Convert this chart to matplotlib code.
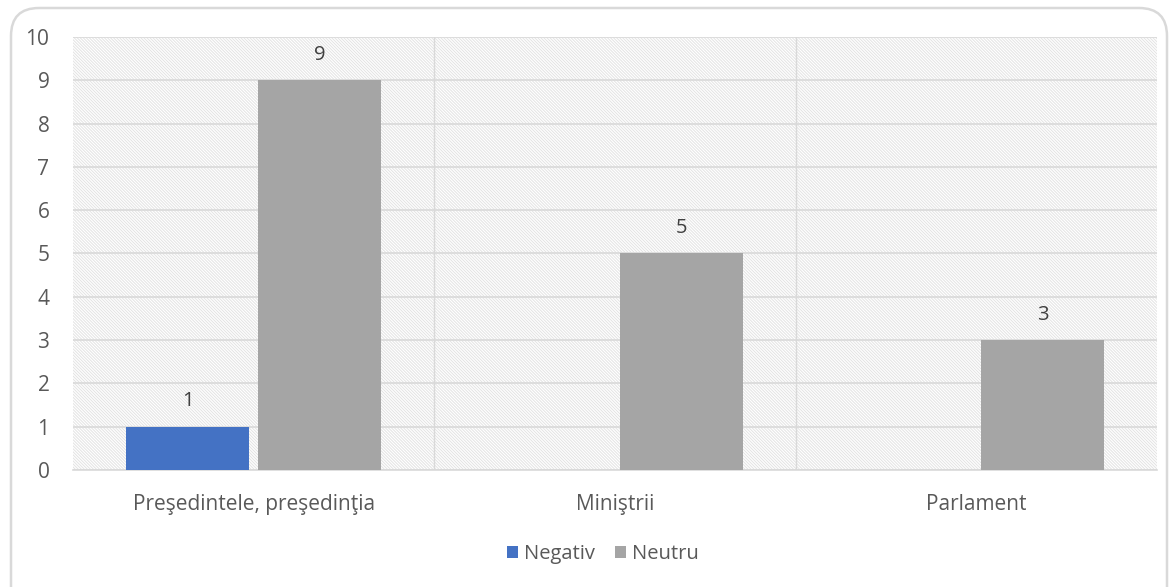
import numpy as np
import matplotlib
import matplotlib.pyplot as plt
from matplotlib.patches import FancyBboxPatch, Rectangle

categories = ["Preşedintele, preşedinţia", "Miniştrii", "Parlament"]
negativ = [1, np.nan, np.nan]
neutru = [9, 5, 3]
series_names = ["Negativ", "Neutru"]
colors = ["#4472C4", "#A5A5A5"]

W, H = 1173, 587


def main():
    plt.rcParams["font.family"] = ["Open Sans", "DejaVu Sans"]
    plt.rcParams["hatch.linewidth"] = 0.7

    fig = plt.figure(figsize=(W / 100, H / 100), dpi=100)

    # rounded chart border drawn in pixel coords, bottom runs off the picture
    bg = fig.add_axes([0, 0, 1, 1])
    bg.set_xlim(0, W)
    bg.set_ylim(H, 0)
    bg.axis("off")
    bg.add_patch(FancyBboxPatch((11, 8), 1156, 620,
                                boxstyle="round,pad=0,rounding_size=28",
                                fill=False, edgecolor="#d9d9d9",
                                linewidth=1.8))

    ax = fig.add_axes([73 / W, 1 - 470 / H, 1084 / W, 433 / H])

    # hatched plot area background
    ax.add_patch(Rectangle((0, 0), 1, 1, transform=ax.transAxes,
                           facecolor="white", edgecolor="#e3e3e3",
                           linewidth=0, hatch="\\" * 11, zorder=0))

    x = np.arange(len(categories))
    width = 0.34
    offset = 0.183
    bars_neg = ax.bar(x - offset, negativ, width, color=colors[0],
                      label=series_names[0], zorder=3)
    bars_neu = ax.bar(x + offset, neutru, width, color=colors[1],
                      label=series_names[1], zorder=3)

    for bars, vals in [(bars_neg, negativ), (bars_neu, neutru)]:
        for b, v in zip(bars, vals):
            if np.isnan(v):
                continue
            ax.annotate(f"{v:g}", (b.get_x() + b.get_width() / 2, v),
                        xytext=(0, 11), textcoords="offset points",
                        ha="center", va="bottom", fontsize=14.5,
                        color="#404040")

    ax.set_xlim(-0.5, len(categories) - 0.5)
    ax.set_ylim(0, 10)
    ax.set_yticks(range(0, 11))
    ax.yaxis.grid(True, color="#d9d9d9", linewidth=1.2, zorder=1)
    for xb in [0.5, 1.5]:
        ax.axvline(xb, color="#d9d9d9", linewidth=1.0, zorder=1)
    ax.set_axisbelow(True)

    ax.set_xticks(x)
    ax.set_xticklabels(categories)
    ax.tick_params(axis="both", length=0, labelsize=15, labelcolor="#595959")
    ax.tick_params(axis="y", pad=17)
    ax.tick_params(axis="x", pad=17)

    for side in ["top", "right", "left"]:
        ax.spines[side].set_visible(False)
    ax.spines["bottom"].set_color("#d9d9d9")
    ax.spines["bottom"].set_linewidth(1.2)

    leg = fig.legend(loc="center", bbox_to_anchor=(603 / W, 1 - 554 / H),
                     ncol=2, frameon=False, fontsize=14.5, handlelength=0.55,
                     handleheight=0.55, handletextpad=0.3, columnspacing=1.0)
    for t in leg.get_texts():
        t.set_color("#595959")

    fig.savefig("out.png", dpi=100)
    plt.close(fig)


if __name__ == "__main__":
    main()
